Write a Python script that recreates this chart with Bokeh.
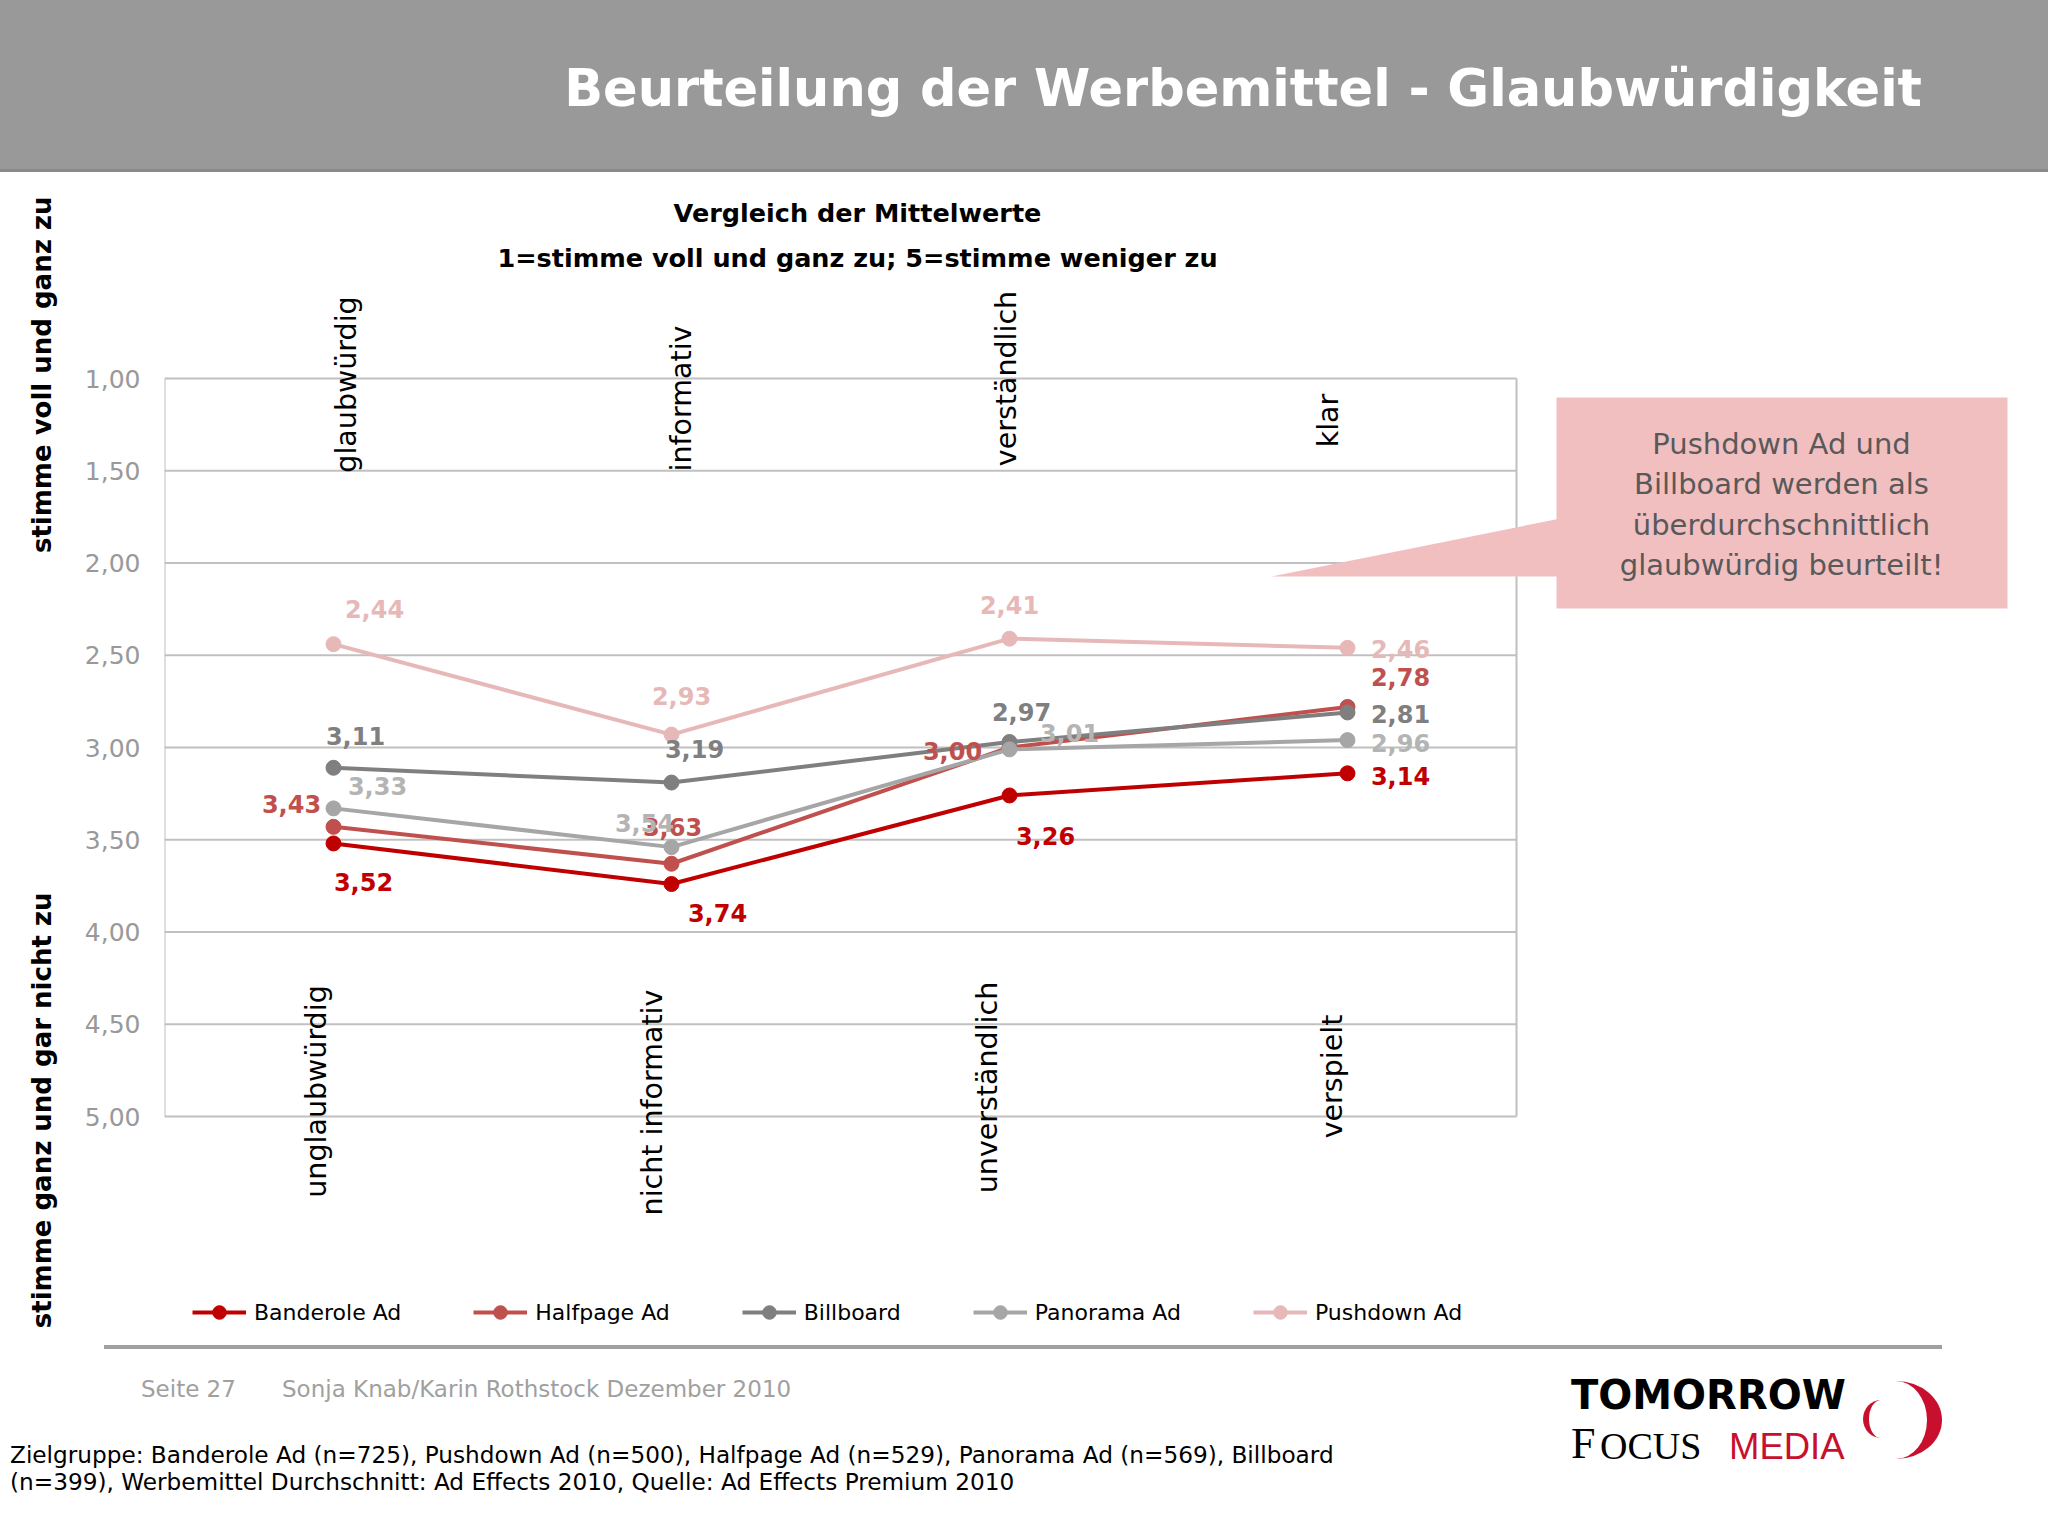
import math
from bokeh.plotting import figure
from bokeh.layouts import column
from bokeh.core.properties import value
from bokeh.models import (Range1d, FixedTicker, CustomJSTickFormatter, Label, LabelSet, LinearAxis, Div,
                          ColumnDataSource, BoxAnnotation, PolyAnnotation, Legend, LegendItem)
from bokeh.embed import file_html
from bokeh.resources import INLINE

# ---------------- data ----------------
categories_top = ["glaubwürdig", "informativ", "verständlich", "klar"]
categories_bottom = ["unglaubwürdig", "nicht informativ", "unverständlich", "verspielt"]
series_names = ["Banderole Ad", "Halfpage Ad", "Billboard", "Panorama Ad", "Pushdown Ad"]
banderole = [3.52, 3.74, 3.26, 3.14]
halfpage = [3.43, 3.63, 3.00, 2.78]
billboard = [3.11, 3.19, 2.97, 2.81]
panorama = [3.33, 3.54, 3.01, 2.96]
pushdown = [2.44, 2.93, 2.41, 2.46]
y_ticks = [1.0, 1.5, 2.0, 2.5, 3.0, 3.5, 4.0, 4.5, 5.0]

title = "Beurteilung der Werbemittel - Glaubwürdigkeit"
subtitle1 = "Vergleich der Mittelwerte"
subtitle2 = "1=stimme voll und ganz zu; 5=stimme weniger zu"
axis_top_text = "stimme voll und ganz zu"
axis_bottom_text = "stimme ganz und gar nicht zu"
callout_lines = ["Pushdown Ad und", "Billboard werden als", "überdurchschnittlich", "glaubwürdig beurteilt!"]
footer_page = "Seite 27"
footer_author = "Sonja Knab/Karin Rothstock Dezember 2010"
footnote1 = "Zielgruppe: Banderole Ad (n=725), Pushdown Ad (n=500), Halfpage Ad (n=529), Panorama Ad (n=569), Billboard"
footnote2 = "(n=399), Werbemittel Durchschnitt: Ad Effects 2010, Quelle: Ad Effects Premium 2010"

# ---------------- styles / layout ----------------
series_values = [banderole, halfpage, billboard, panorama, pushdown]
line_colors = ["#C00000", "#C0504D", "#7F7F7F", "#A6A6A6", "#E6B9B8"]
label_colors = ["#C00000", "#C0504D", "#7F7F7F", "#B4B4B4", "#E6B9B8"]
label_dx = [[30, 46, 36, 53], [-42, 1, -57, 53], [22, 23, 12, 53], [44, -27, 60, 53], [41, 10, 0, 53]]
label_dy = [[39, 29, 41, 3], [-23, -37, 3, -30], [-32, -34, -30, 2], [-22, -24, -16, 3], [-35, -39, -34, 1]]

FONT = "DejaVu Sans"
METRICS = {FONT: (0.928, 0.236), "Liberation Serif": (0.891, 0.216), "Liberation Sans": (0.905, 0.212)}
PAGE_W, PAGE_H = 2048, 1536
PL, PT, PW, PH = 164, 378, 1352, 738      # plot area (page pixels)
HEADER_BOTTOM = 172
MAIN_BOTTOM = 1340
FRAME_W = PAGE_W - PL
FRAME_H = MAIN_BOTTOM - HEADER_BOTTOM


def X(px):
    return (px - PL) / (PW / 4.0)


def Y(py):
    return 1.0 + (py - PT) / (PH / 4.0)


def span(left, baseline, size, text, color, weight="normal", family=FONT, top0=0, align="left", lh=1.0):
    a, d = METRICS[family]
    top = baseline - top0 - ((lh - (a + d)) / 2.0 + a) * size
    pos = "left:%.1fpx;" % left if align == "left" else "right:%.1fpx;" % left
    return ('<div style="position:absolute;%stop:%.1fpx;font-family:\'%s\';font-size:%.1fpx;'
            'font-weight:%s;line-height:%.2f;color:%s;white-space:nowrap;">%s</div>'
            % (pos, top, family, size, weight, lh, color, text))


# ================= header =================
hdr_html = ('<div style="position:relative;width:%dpx;height:%dpx;background:#999999;overflow:hidden;">'
            % (PAGE_W, HEADER_BOTTOM)
            + span(PAGE_W - 1922, 106, 51, title, "white", weight="bold", align="right")
            + '<div style="position:absolute;left:0;top:169px;width:%dpx;height:3px;background:#8A8A8A;"></div>'
            % PAGE_W
            + '</div>')
hdr = Div(text=hdr_html, width=PAGE_W, height=HEADER_BOTTOM, margin=(0, 0, 0, 0))

# ================= main figure =================
p = figure(x_range=Range1d(0, X(PAGE_W)), y_range=Range1d(Y(MAIN_BOTTOM), Y(HEADER_BOTTOM)),
           frame_width=FRAME_W, frame_height=FRAME_H,
           min_border_left=PL, min_border_top=0, min_border_right=0, min_border_bottom=0,
           output_backend="svg", toolbar_location=None, margin=(0, 0, 0, 0))
p.background_fill_color = "white"
p.border_fill_color = "white"
p.outline_line_color = None
p.xaxis.visible = False
p.grid.visible = False
p.yaxis.ticker = FixedTicker(ticks=y_ticks)
p.yaxis.formatter = CustomJSTickFormatter(code="return tick.toFixed(2).replace('.', ',');")
p.yaxis.axis_line_color = None
p.yaxis.major_tick_line_color = None
p.yaxis.minor_tick_line_color = None
p.yaxis.major_tick_out = 0
p.yaxis.major_tick_in = 0
p.yaxis.major_label_standoff = 24
p.yaxis.major_label_text_font = FONT
p.yaxis.major_label_text_font_size = "25px"
p.yaxis.major_label_text_color = "#999999"

# outer axis carrying the two rotated scale-end captions (text end placed at the tick)
cap_axis = LinearAxis(ticker=FixedTicker(ticks=[Y(196), Y(892)]),
                      formatter=CustomJSTickFormatter(args=dict(a=axis_top_text, b=axis_bottom_text),
                                                      code="return tick < 3 ? a : b;"))
cap_axis.axis_line_color = None
cap_axis.major_tick_line_color = None
cap_axis.minor_tick_line_color = None
cap_axis.major_tick_out = 0
cap_axis.major_tick_in = 0
cap_axis.major_label_orientation = math.pi / 2
cap_axis.major_label_standoff = 40
cap_axis.major_label_text_font = FONT
cap_axis.major_label_text_font_style = "bold"
cap_axis.major_label_text_font_size = "26px"
cap_axis.major_label_text_color = "black"
p.add_layout(cap_axis, "left")

cat_x = [i + 0.5 for i in range(len(categories_top))]
n_cat = len(categories_top)

# grid lines and side borders of the plot area
p.segment(x0=0, x1=n_cat, y0=y_ticks, y1=y_ticks, line_color="#C0C0C0", line_width=2)
p.segment(x0=[0, n_cat], x1=[0, n_cat], y0=y_ticks[0], y1=y_ticks[-1], line_color="#C0C0C0", line_width=2)

items = []
for i, name in enumerate(series_names):
    vals = series_values[i]
    lr = p.line(cat_x, vals, line_color=line_colors[i], line_width=4)
    sr = p.scatter(cat_x, vals, size=15, fill_color=line_colors[i], line_color=line_colors[i])
    items.append(LegendItem(label=name, renderers=[lr, sr]))

for i, name in enumerate(series_names):
    vals = series_values[i]
    src = ColumnDataSource(dict(x=cat_x, y=vals,
                                t=[("%.2f" % v).replace(".", ",") for v in vals],
                                dx=label_dx[i], dy=[-d for d in label_dy[i]]))
    p.add_layout(LabelSet(x="x", y="y", text="t", source=src, x_offset="dx", y_offset="dy",
                          text_align="center", text_baseline="middle",
                          text_font=value(FONT), text_font_style="bold", text_font_size="24px",
                          text_color=label_colors[i]))

legend = Legend(items=items, orientation="horizontal", location=(192 - PL, MAIN_BOTTOM - 1329),
                glyph_width=54, glyph_height=34, label_height=22, label_standoff=8, spacing=72,
                padding=0, margin=0, border_line_color=None, background_fill_alpha=0,
                label_text_font=FONT, label_text_font_size="22px", label_text_color="black")
p.add_layout(legend)

# category captions
top_x = [346, 681, 1006, 1328]
top_y = [384, 398, 378, 420]
bot_x = [316, 652, 987, 1332]
bot_y = [1091, 1102, 1087, 1076]
for i in range(n_cat):
    p.add_layout(Label(x=X(top_x[i]), y=Y(top_y[i]), text=categories_top[i], angle=math.pi / 2,
                       text_align="center", text_baseline="middle", text_font=FONT,
                       text_font_size="28.5px", text_color="black"))
    p.add_layout(Label(x=X(bot_x[i]), y=Y(bot_y[i]), text=categories_bottom[i], angle=math.pi / 2,
                       text_align="center", text_baseline="middle", text_font=FONT,
                       text_font_size="28.5px", text_color="black"))

p.add_layout(Label(x=X(857), y=Y(212), text=subtitle1, text_align="center", text_baseline="middle",
                   text_font=FONT, text_font_style="bold", text_font_size="25.5px", text_color="black"))
p.add_layout(Label(x=X(857), y=Y(257), text=subtitle2, text_align="center", text_baseline="middle",
                   text_font=FONT, text_font_style="bold", text_font_size="25.5px", text_color="black"))

# callout
PINK = "#F2BFC1"
p.add_layout(PolyAnnotation(xs=[X(1560), X(1271), X(1560)], ys=[Y(518), Y(576), Y(576)],
                            fill_color=PINK, fill_alpha=1, line_color=None))
p.add_layout(BoxAnnotation(left=X(1556), right=X(2007), top=Y(397), bottom=Y(608),
                           fill_color=PINK, fill_alpha=1, line_color=None))
for k, line in enumerate(callout_lines):
    p.add_layout(Label(x=X(1781), y=Y(443 + k * 40.5), text=line, text_align="center",
                       text_baseline="middle", text_font=FONT, text_font_size="29px",
                       text_color="#595959"))

# ================= footer =================
F0 = MAIN_BOTTOM
LOGO_RED = "#C8102E"
ftr_html = ('<div style="position:relative;width:%dpx;height:%dpx;background:white;overflow:hidden;">'
            % (PAGE_W, PAGE_H - F0)
            + '<div style="position:absolute;left:104px;top:%dpx;width:1838px;height:4px;background:#A0A0A0;"></div>'
            % (1345 - F0)
            + span(141, 1397, 23, footer_page, "#A0A0A0", top0=F0)
            + span(282, 1397, 23, footer_author, "#A0A0A0", top0=F0)
            + span(10, 1463, 23.25, footnote1, "black", top0=F0)
            + span(10, 1490, 23.25, footnote2, "black", top0=F0)
            + span(1571, 1409, 40, "TOMORROW", "black", weight="bold", top0=F0, lh=0.75)
            + span(1571, 1459, 44, "F", "black", family="Liberation Serif", top0=F0, lh=0.7)
            + span(1600, 1459, 38, "OCUS", "black", family="Liberation Serif", top0=F0, lh=0.7)
            + span(1729, 1459, 36.5, "MEDIA", LOGO_RED, family="Liberation Sans", top0=F0, lh=0.7)
            + '<div style="position:absolute;left:1850px;top:%dpx;width:92px;height:78px;'
              'border-right:15px solid %s;border-radius:50%%;box-sizing:border-box;"></div>' % (1381 - F0, LOGO_RED)
            + '<div style="position:absolute;left:1863px;top:%dpx;width:36px;height:38px;'
              'border-left:6px solid %s;border-radius:50%%;box-sizing:border-box;"></div>' % (1400 - F0, LOGO_RED)
            + '</div>')
ftr = Div(text=ftr_html, width=PAGE_W, height=PAGE_H - F0, margin=(0, 0, 0, 0))

page = column(hdr, p, ftr, spacing=0)
open("out.html", "w").write(file_html(page, INLINE))
